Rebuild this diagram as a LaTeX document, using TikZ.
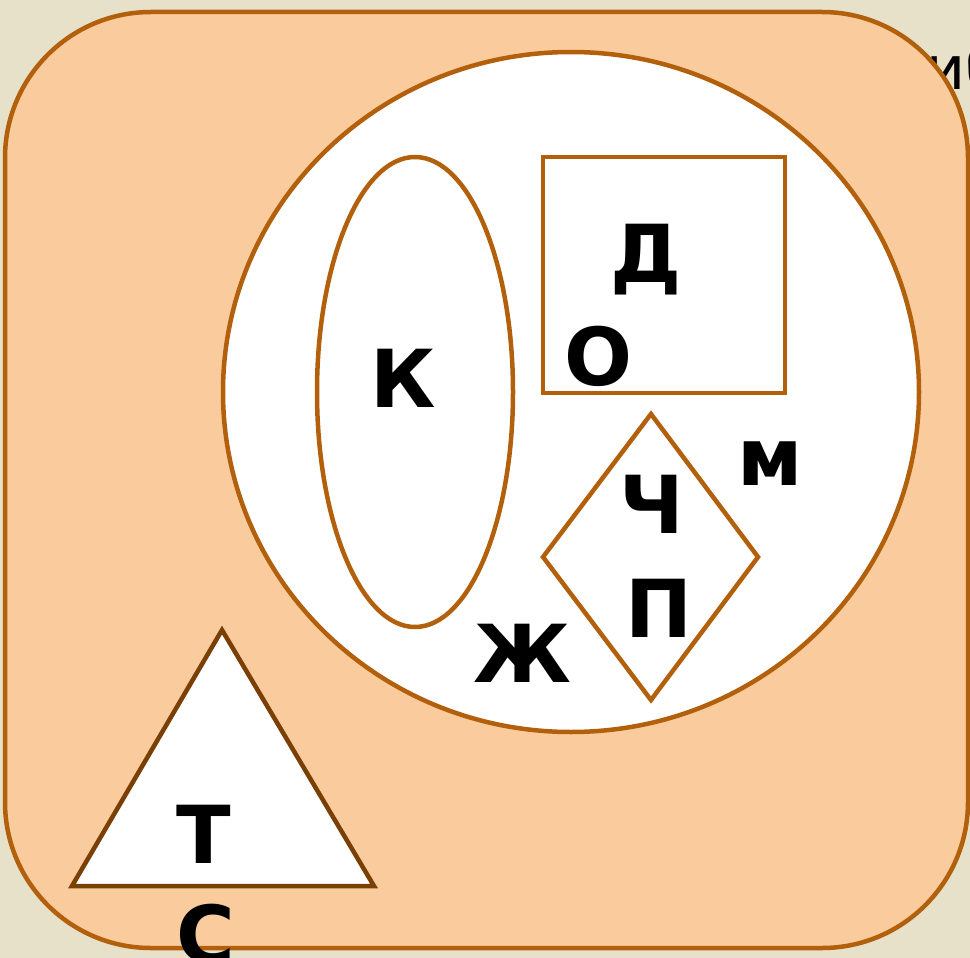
\documentclass[tikz,border=0pt]{standalone}
\usepackage{fontspec}
\setmainfont{DejaVu Sans}
\definecolor{bgc}{HTML}{E7E1CA}
\definecolor{orfill}{HTML}{FACC9D}
\definecolor{brn}{HTML}{B3600D}
\definecolor{dbrn}{HTML}{7A3F05}
\begin{document}
\begin{tikzpicture}[x=1pt,y=-1pt,
  edge/.style={draw=brn,line width=4.5pt},
  lett/.style={font=\bfseries\fontsize{80}{80}\selectfont,inner sep=0pt,text=black,anchor=base}]
\useasboundingbox (0,0) rectangle (970,958);
\clip (0,0) rectangle (970,958);
\fill[bgc] (0,0) rectangle (970,958);
\node[font=\fontsize{60}{60}\selectfont,inner sep=0pt,anchor=base west] (ib) at (926,90) {иб};
\draw[edge,fill=orfill,rounded corners=146pt] (5,12) rectangle (968,948);
\draw[edge,fill=white] (571,392) ellipse [x radius=348, y radius=340];
\draw[edge] (415,392) ellipse [x radius=98, y radius=235];
\draw[edge] (543,157) rectangle (785,393);
\draw[edge,line join=miter] (651,414) -- (758,557) -- (651,700) -- (543,557) -- cycle;
\draw[draw=dbrn,line width=4.5pt,fill=white,line join=miter] (222,630) -- (374,886) -- (72,886) -- cycle;
\node[lett] (K) at (403,407) {К};
\node[lett] (D) at (646,282) {Д};
\node[lett] (O) at (598,385) {О};
\node[lett] (M) at (770,485) {м};
\node[lett] (Ch) at (652,533) {Ч};
\node[lett] (P) at (659,637) {П};
\node[lett] (Zh) at (522,682) {Ж};
\node[lett] (T) at (204,863) {Т};
\node[lett] (S) at (206,963) {С};
\end{tikzpicture}
\end{document}
